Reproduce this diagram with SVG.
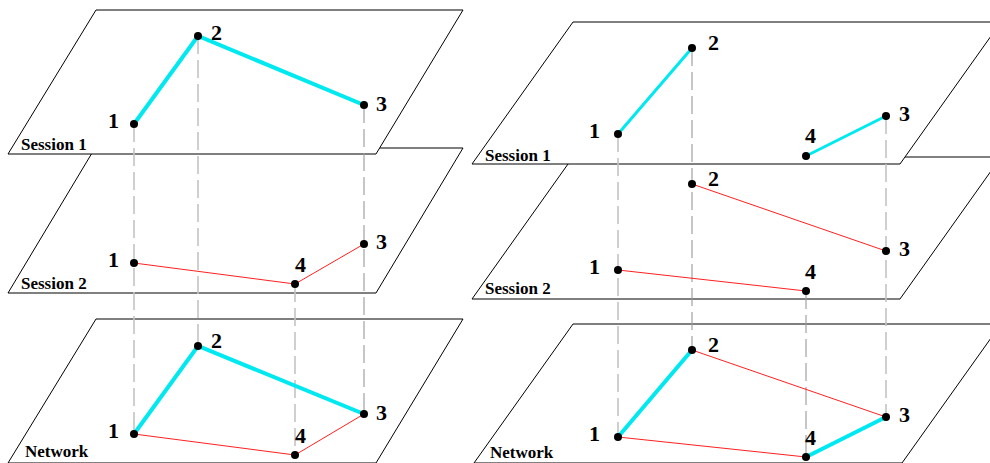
<svg xmlns="http://www.w3.org/2000/svg" width="990" height="463" viewBox="0 0 990 463">
<style>
.plane{fill:#fff;stroke:#000;stroke-width:1}
.plabel{font-family:"Liberation Serif",serif;font-weight:bold;font-size:17px;fill:#000}
.num{font-family:"Liberation Serif",serif;font-weight:bold;font-size:22px;fill:#000}
.dot{fill:#000}
.proj{stroke:#c4c4c4;stroke-width:1.6;stroke-dasharray:18 6;fill:none}
.proj2{stroke:#999;stroke-width:1.1;stroke-dasharray:18 6;fill:none}
.cyan{stroke:#00e8f0;stroke-width:4;stroke-linecap:round;fill:none}
.cyanr{stroke:#00e8f0;stroke-width:3;stroke-linecap:round;fill:none}
.red{stroke:#ff2020;stroke-width:1;fill:none}
</style>
<rect width="990" height="463" fill="#fff"/>
<g id="planes">
<polygon class="plane" points="96,319 463,319 376,463 8,463"/>
<polygon class="plane" points="95,148 463,148 376,293 8,293"/>
<polygon class="plane" points="96,10 463,10 376,154 8,154"/>
<polygon class="plane" points="573,324 1001,324 902,463 474,463"/>
<polygon class="plane" points="573,157 1001,157 900,299 472,299"/>
<polygon class="plane" points="573,22 1001,22 900,164 472,164"/>
<text class="plabel" x="21" y="150">Session 1</text>
<text class="plabel" x="21" y="289">Session 2</text>
<text class="plabel" x="25" y="457">Network</text>
<text class="plabel" x="485" y="161">Session 1</text>
<text class="plabel" x="485" y="294">Session 2</text>
<text class="plabel" x="490" y="458">Network</text>
</g>
<g id="connectors">
<line class="proj" x1="134" y1="124" x2="134" y2="434"/>
<line class="proj" x1="198" y1="36" x2="198" y2="346"/>
<line class="proj2" x1="364" y1="105" x2="364" y2="414"/>
<line class="proj" x1="295" y1="284" x2="295" y2="455"/>
<line class="proj" x1="618" y1="134" x2="618" y2="437"/>
<line class="proj2" x1="692" y1="48" x2="692" y2="350"/>
<line class="proj" x1="886" y1="116" x2="886" y2="417"/>
<line class="proj2" x1="806" y1="291" x2="806" y2="457"/>
<polyline class="cyan" points="134,124 198,36 364,105"/>
<polyline class="red" points="134,263 295,284 364,244"/>
<polyline class="cyan" points="134,434 198,346 364,414"/>
<polyline class="red" points="134,434 295,455 364,414"/>
<line class="cyanr" x1="618" y1="134" x2="692" y2="48"/>
<line class="cyanr" x1="806" y1="156" x2="886" y2="116"/>
<line class="red" x1="692" y1="184" x2="886" y2="251"/>
<line class="red" x1="618" y1="270" x2="806" y2="291"/>
<line class="red" x1="692" y1="350" x2="886" y2="417"/>
<line class="red" x1="618" y1="437" x2="806" y2="457"/>
<line class="cyan" x1="618" y1="437" x2="692" y2="350"/>
<line class="cyan" x1="806" y1="457" x2="886" y2="417"/>
</g>
<g id="L-s1-n1"><circle class="dot" cx="134" cy="124" r="4"/><text class="num" x="108" y="128">1</text></g>
<g id="L-s1-n2"><circle class="dot" cx="198" cy="36" r="4"/><text class="num" x="211" y="40">2</text></g>
<g id="L-s1-n3"><circle class="dot" cx="364" cy="105" r="4"/><text class="num" x="376" y="111">3</text></g>
<g id="L-s2-n1"><circle class="dot" cx="134" cy="263" r="4"/><text class="num" x="108" y="267">1</text></g>
<g id="L-s2-n4"><circle class="dot" cx="295" cy="284" r="4"/><text class="num" x="295" y="272">4</text></g>
<g id="L-s2-n3"><circle class="dot" cx="364" cy="244" r="4"/><text class="num" x="376" y="249">3</text></g>
<g id="L-net-n1"><circle class="dot" cx="134" cy="434" r="4"/><text class="num" x="108" y="438">1</text></g>
<g id="L-net-n2"><circle class="dot" cx="198" cy="346" r="4"/><text class="num" x="211" y="348">2</text></g>
<g id="L-net-n3"><circle class="dot" cx="364" cy="414" r="4"/><text class="num" x="376" y="420">3</text></g>
<g id="L-net-n4"><circle class="dot" cx="295" cy="455" r="4"/><text class="num" x="295" y="443">4</text></g>
<g id="R-s1-n1"><circle class="dot" cx="618" cy="134" r="4"/><text class="num" x="589" y="138">1</text></g>
<g id="R-s1-n2"><circle class="dot" cx="692" cy="48" r="4"/><text class="num" x="708" y="50">2</text></g>
<g id="R-s1-n3"><circle class="dot" cx="886" cy="116" r="4"/><text class="num" x="899" y="121">3</text></g>
<g id="R-s1-n4"><circle class="dot" cx="806" cy="156" r="4"/><text class="num" x="805" y="143">4</text></g>
<g id="R-s2-n1"><circle class="dot" cx="618" cy="270" r="4"/><text class="num" x="589" y="274">1</text></g>
<g id="R-s2-n2"><circle class="dot" cx="692" cy="184" r="4"/><text class="num" x="708" y="186">2</text></g>
<g id="R-s2-n3"><circle class="dot" cx="886" cy="251" r="4"/><text class="num" x="899" y="256">3</text></g>
<g id="R-s2-n4"><circle class="dot" cx="806" cy="291" r="4"/><text class="num" x="805" y="279">4</text></g>
<g id="R-net-n1"><circle class="dot" cx="618" cy="437" r="4"/><text class="num" x="589" y="441">1</text></g>
<g id="R-net-n2"><circle class="dot" cx="692" cy="350" r="4"/><text class="num" x="708" y="352">2</text></g>
<g id="R-net-n3"><circle class="dot" cx="886" cy="417" r="4"/><text class="num" x="899" y="422">3</text></g>
<g id="R-net-n4"><circle class="dot" cx="806" cy="457" r="4"/><text class="num" x="805" y="445">4</text></g>
</svg>
